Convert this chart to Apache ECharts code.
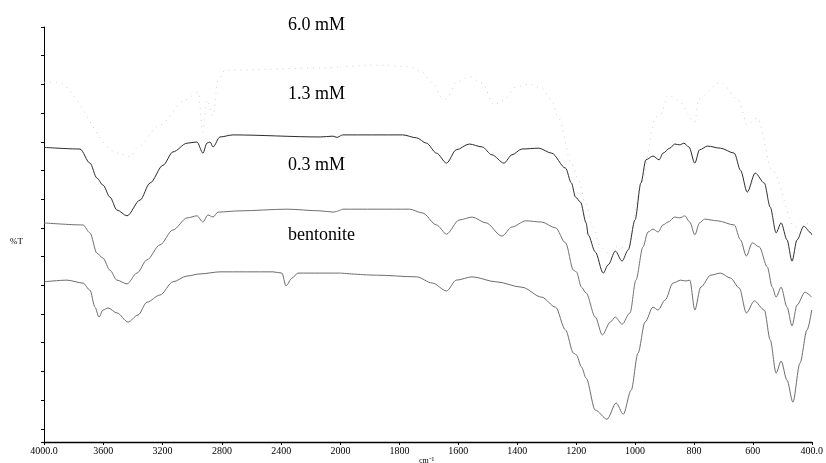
<!DOCTYPE html>
<html>
<head>
<meta charset="utf-8">
<script src="https://cdn.jsdelivr.net/npm/echarts@6/dist/echarts.min.js"></script>
<style>
  html, body { margin: 0; padding: 0; background: #fff; }
  #chart { width: 826px; height: 463px; }
</style>
</head>
<body>
<div id="chart"></div>
<script>
// IR spectra of bentonite and treated samples: [wavenumber (cm-1), %T in offset units]
const seriesNames = ['6.0 mM', '1.3 mM', '0.3 mM', 'bentonite'];

const trace60 = [
  [4000, 86.7], [3912, 86.7], [3501, 69.6], [3420, 68.7], [3366, 71.1], [3218, 76.4],
  [3049, 82.4], [2961, 84.3], [2928, 74.7], [2901, 82.4], [2860, 78.6], [2826, 87.2],
  [2779, 89.6], [2138, 90.1], [2000, 90.4], [1860, 90.8], [1766, 90.4], [1722, 89.2],
  [1688, 86.5], [1654, 82.9], [1640, 82.7], [1607, 86.7], [1563, 88.0], [1519, 86.5],
  [1479, 81.2], [1445, 82.4], [1405, 85.5], [1361, 86.3], [1317, 85.3], [1283, 82.4],
  [1260, 78.1], [1216, 67.2], [1192, 63.1], [1169, 57.6], [1142, 51.8], [1118, 47.0],
  [1091, 45.5], [1057, 47.2], [1023, 46.3], [980, 62.0], [929, 78.3], [912, 79.0],
  [888, 83.6], [855, 82.4], [797, 77.1], [784, 82.7], [710, 86.7], [649, 82.4],
  [619, 76.4], [585, 78.1], [534, 65.5], [457, 51.8], [400, 53.0]
];

const trace13 = [
  [4000, 71.0], [3757, 70.6], [3690, 67.2], [3643, 63.6], [3602, 61.9], [3555, 59.0],
  [3508, 55.9], [3440, 54.5], [3352, 58.3], [3285, 62.4], [3197, 66.7], [3130, 69.9],
  [3035, 72.0], [2968, 72.3], [2928, 69.6], [2901, 72.0], [2880, 72.3], [2860, 71.1],
  [2813, 73.5], [2725, 74.0], [2138, 73.5], [2050, 73.7], [2024, 73.4], [2000, 73.8],
  [1992, 74.0], [1789, 74.0], [1742, 73.3], [1708, 72.0], [1674, 69.6], [1640, 67.2],
  [1607, 70.4], [1563, 71.8], [1519, 71.1], [1486, 69.2], [1445, 67.2], [1418, 69.2],
  [1384, 70.6], [1327, 70.8], [1283, 69.6], [1236, 66.0], [1216, 62.4], [1202, 59.0],
  [1185, 57.8], [1166, 52.8], [1159, 49.9], [1135, 45.8], [1108, 40.7], [1091, 42.7],
  [1067, 46.0], [1044, 43.6], [1023, 46.3], [1000, 53.5], [980, 62.4], [963, 68.0],
  [939, 68.9], [918, 68.0], [905, 69.6], [882, 70.8], [865, 71.8], [848, 71.6],
  [834, 72.0], [817, 71.1], [797, 67.2], [781, 70.4], [754, 71.3], [710, 70.8],
  [663, 69.6], [642, 65.5], [619, 60.2], [592, 64.8], [561, 62.4], [541, 56.6],
  [521, 50.4], [504, 52.8], [484, 48.7], [467, 43.6], [450, 48.7], [427, 52.0],
  [403, 50.4], [400, 49.9]
];

const trace03 = [
  [4000, 52.8], [3737, 52.3], [3690, 50.4], [3643, 45.5], [3602, 44.3], [3555, 41.4],
  [3508, 39.0], [3440, 38.1], [3373, 40.7], [3305, 43.9], [3218, 47.5], [3130, 51.1],
  [3035, 54.0], [2968, 54.5], [2928, 53.0], [2894, 54.7], [2860, 54.2], [2826, 55.4],
  [2678, 55.7], [2361, 56.1], [2138, 55.7], [2050, 55.4], [2000, 55.9], [1992, 56.1],
  [1766, 56.1], [1722, 55.2], [1674, 52.3], [1640, 50.1], [1597, 53.5], [1553, 54.2],
  [1506, 52.8], [1452, 49.6], [1418, 51.8], [1371, 53.3], [1317, 53.0], [1270, 51.6],
  [1236, 48.0], [1209, 41.4], [1199, 41.0], [1182, 37.3], [1166, 35.9], [1135, 30.1],
  [1111, 25.8], [1084, 28.9], [1067, 30.1], [1044, 28.4], [1017, 31.1], [997, 39.0],
  [973, 47.0], [956, 50.6], [939, 51.3], [922, 50.6], [905, 52.3], [888, 53.0],
  [865, 54.2], [848, 54.0], [831, 54.5], [814, 53.0], [797, 49.9], [781, 52.8],
  [764, 53.7], [720, 53.3], [663, 52.3], [642, 48.7], [622, 44.8], [602, 48.0],
  [578, 47.0], [551, 42.2], [534, 37.3], [521, 34.9], [504, 37.3], [484, 32.5],
  [467, 28.0], [450, 33.0], [423, 36.1], [400, 34.9]
];

const traceBentonite = [
  [4000, 38.6], [3845, 39.0], [3737, 38.3], [3690, 36.6], [3656, 32.5], [3629, 30.1],
  [3602, 31.8], [3568, 32.3], [3508, 31.1], [3433, 28.9], [3366, 30.6], [3305, 33.7],
  [3218, 35.4], [3130, 38.6], [3035, 40.0], [2948, 40.5], [2813, 41.0], [2455, 41.0],
  [2395, 40.7], [2368, 37.6], [2327, 39.5], [2287, 40.7], [2138, 40.7], [2000, 40.7],
  [1877, 40.2], [1742, 39.8], [1688, 38.3], [1640, 36.4], [1607, 39.0], [1553, 39.8],
  [1472, 38.6], [1384, 37.3], [1317, 34.9], [1270, 32.5], [1236, 27.0], [1209, 21.4],
  [1199, 21.0], [1182, 18.1], [1166, 15.4], [1135, 7.7], [1095, 5.5], [1064, 9.4],
  [1040, 6.7], [1013, 12.5], [990, 21.4], [966, 28.9], [939, 32.5], [922, 31.8],
  [898, 34.2], [871, 38.3], [845, 39.0], [828, 38.8], [814, 39.0], [797, 31.8],
  [777, 37.3], [743, 40.2], [710, 40.7], [676, 39.5], [646, 37.1], [622, 31.1],
  [595, 34.0], [561, 31.8], [541, 24.6], [521, 16.6], [504, 19.5], [484, 14.9],
  [464, 9.6], [440, 19.0], [416, 27.0], [400, 31.8]
];

// x-axis ticks: the scale doubles below 2000 cm-1
const ticksHigh = [4000, 3600, 3200, 2800, 2400, 2000];
const ticksLow = [1800, 1600, 1400, 1200, 1000, 800, 600, 400];

const traces = [trace60, trace13, trace03, traceBentonite];
const lineColors = ['#cfcfcf', '#2b2b2b', '#707070', '#6c6c6c'];
const lineTypes = [[1, 5], 'solid', 'solid', 'solid'];

const serif = '"Liberation Serif", "Times New Roman", serif';

function splitRange(data, lo, hi) {
  return data.filter(function (p) { return p[0] >= lo && p[0] <= hi; });
}

const series = [];
traces.forEach(function (tr, i) {
  [[2000, 4000, 0, 1], [400, 2000, 1, 2]].forEach(function (r) {
    series.push({
      name: seriesNames[i],
      type: 'line',
      xAxisIndex: r[2],
      yAxisIndex: r[3],
      data: splitRange(tr, r[0], r[1]),
      showSymbol: false,
      smooth: 0.3,
      smoothMonotone: 'x',
      lineStyle: { color: lineColors[i], width: 1, type: lineTypes[i] },
      silent: true
    });
  });
});

function fmtTick(v) {
  if (v === 4000) return '4000.0';
  if (v === 400) return '400.0';
  return String(v);
}

const axisLabelStyle = {
  fontFamily: serif, fontSize: 10, color: '#000', margin: 4, formatter: fmtTick
};

const chart = echarts.init(document.getElementById('chart'));
chart.setOption({
  animation: false,
  backgroundColor: '#fff',
  grid: [
    { left: 44, top: 27, width: 296.5, height: 415 },
    { left: 340.5, top: 27, width: 474.5, height: 415 }
  ],
  xAxis: [
    {
      gridIndex: 0, type: 'value', inverse: true, position: 'bottom',
      min: ticksHigh[ticksHigh.length - 1], max: ticksHigh[0], interval: 400,
      axisLine: { onZero: false, lineStyle: { color: '#000', width: 1.3 } },
      axisTick: { length: 3, lineStyle: { color: '#000' } },
      axisLabel: axisLabelStyle,
      splitLine: { show: false }
    },
    {
      gridIndex: 1, type: 'value', inverse: true, position: 'bottom',
      min: ticksLow[ticksLow.length - 1], max: 2000, interval: 200,
      axisLine: { onZero: false, lineStyle: { color: '#000', width: 1.3 } },
      axisTick: { length: 3, lineStyle: { color: '#000' } },
      axisLabel: Object.assign({}, axisLabelStyle, { showMaxLabel: false }),
      splitLine: { show: false }
    }
  ],
  yAxis: [
    {
      gridIndex: 0, type: 'value', inverse: true, position: 'left',
      min: 0, max: 14.46, interval: 1,
      axisLine: { show: true, onZero: false, lineStyle: { color: '#000', width: 1 } },
      axisTick: { show: true, length: 3, lineStyle: { color: '#000' } },
      axisLabel: { show: false },
      splitLine: { show: false }
    },
    { gridIndex: 0, type: 'value', min: 0, max: 100, show: false, splitLine: { show: false } },
    { gridIndex: 1, type: 'value', min: 0, max: 100, show: false, splitLine: { show: false } }
  ],
  series: series,
  graphic: [
    { type: 'text', left: 288, top: 16, style: { text: seriesNames[0], font: '18px ' + serif, fill: '#000' } },
    { type: 'text', left: 288, top: 85, style: { text: seriesNames[1], font: '18px ' + serif, fill: '#000' } },
    { type: 'text', left: 288, top: 156, style: { text: seriesNames[2], font: '18px ' + serif, fill: '#000' } },
    { type: 'text', left: 288, top: 226, style: { text: seriesNames[3], font: '18px ' + serif, fill: '#000' } },
    { type: 'text', left: 10, top: 237, style: { text: '%T', font: '9px ' + serif, fill: '#000' } },
    { type: 'text', left: 419, top: 457, style: { text: 'cm⁻¹', font: '8px ' + serif, fill: '#000' } }
  ]
});
</script>
</body>
</html>
